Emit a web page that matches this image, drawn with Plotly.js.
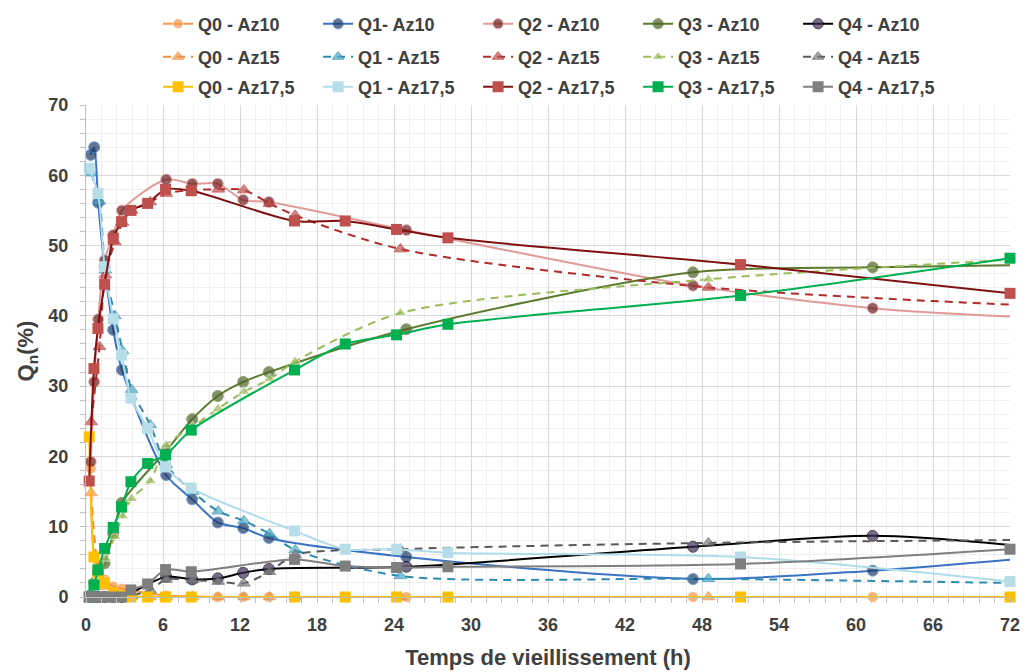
<!DOCTYPE html>
<html>
<head>
<meta charset="utf-8">
<script src="https://cdn.plot.ly/plotly-3.0.1.min.js"></script>
<style>
html,body{margin:0;padding:0;background:#fff;}
#chart{width:1025px;height:672px;}
</style>
</head>
<body>
<div id="chart"></div>
<script>
// ---- time points (h) ----
const t10  = [0.37, 0.64, 0.95, 1.45, 2.12, 2.8, 6.25, 8.28, 10.27, 12.25, 14.25, 24.96, 47.3, 61.3, 72];
const t15  = [0.4, 1.05, 1.5, 2.25, 2.85, 3.55, 5.0, 6.25, 8.3, 10.3, 12.3, 14.3, 16.3, 24.5, 48.5, 72];
const t175 = [0.25, 0.62, 0.93, 1.45, 2.12, 2.77, 3.5, 4.8, 6.2, 8.2, 16.25, 20.2, 24.2, 28.2, 51, 72];

// ---- Az10 ----
const q0_az10 = [18.3, 5.8, 4.5, 2.5, 1.5, 1.2, 0.2, 0.1, 0, 0, 0, 0, 0, 0, 0];
const q1_az10 = [62.9, 64.0, 56.1, 47.0, 38.0, 32.3, 17.35, 13.9, 10.6, 9.8, 8.4, 5.7, 2.56, 3.75, 5.3];
const q2_az10 = [19.25, 30.6, 39.5, 47.9, 51.5, 55.0, 59.4, 58.8, 58.8, 56.5, 56.2, 52.2, 44.3, 41.1, 39.9];
const q3_az10 = [0.3, 2.0, 3.5, 4.8, 9.0, 13.4, 20.8, 25.3, 28.6, 30.6, 32.0, 38.1, 46.2, 46.9, 47.2];
const q4_az10 = [0, 0, 0, 0, 0, 0, 2.9, 2.5, 2.65, 3.45, 4.0, 4.3, 7.15, 8.7, 7.4];

// ---- Az15 ----
const q0_az15 = [14.8, 2.9, 1.5, 0.8, 0.3, 0.1, 0, 0, 0, 0, 0, 0, 0, 0, 0, 0];
const q1_az15 = [60.3, 56.3, 46.5, 40.0, 35.0, 29.5, 24.5, 18.8, 15.0, 12.2, 10.85, 9.0, 6.7, 3.0, 2.6, 2.0];
const q2_az15 = [24.9, 35.6, 45.8, 50.5, 53.3, 55.0, 56.2, 57.4, 57.9, 58.0, 57.9, 56.0, 54.3, 49.5, 44.05, 41.6];
const q3_az15 = [0.2, 3.0, 5.5, 8.6, 11.5, 14.0, 16.5, 21.6, 24.2, 26.8, 29.2, 31.0, 33.5, 40.4, 45.2, 48.0];
const q4_az15 = [0, 0, 0, 0, 0, 0.2, 1.0, 2.5, 2.4, 2.2, 1.95, 3.6, 6.0, 6.8, 7.7, 8.1];

// ---- Az17,5 ----
const q0_az175 = [22.8, 5.7, 3.5, 2.0, 0.6, 0.2, 0, 0, 0, 0, 0, 0, 0, 0, 0, 0];
const q1_az175 = [61.0, null, 57.4, 47.0, 39.6, 34.4, 28.3, 24.0, 18.5, 15.5, 9.4, 6.8, 6.8, 6.3, 5.7, 2.2];
const q2_az175 = [16.5, 32.5, 38.2, 44.5, 51.0, 53.4, 55.0, 56.0, 58.0, 57.8, 53.5, 53.5, 52.3, 51.1, 47.3, 43.2];
const q3_az175 = [0, 1.7, 3.85, 6.9, 9.9, 12.8, 16.4, 19.0, 20.2, 23.75, 32.3, 36.0, 37.3, 38.8, 42.9, 48.2];
const q4_az175 = [0, 0, 0, 0, 0, 0, 1.0, 1.85, 3.9, 3.6, 5.35, 4.4, 4.2, 4.3, 4.7, 6.8];

const names10  = ['Q0 - Az10', 'Q1- Az10', 'Q2 - Az10', 'Q3 - Az10', 'Q4 - Az10'];
const names15  = ['Q0 - Az15', 'Q1 - Az15', 'Q2 - Az15', 'Q3 - Az15', 'Q4 - Az15'];
const names175 = ['Q0 - Az17,5', 'Q1 - Az17,5', 'Q2 - Az17,5', 'Q3 - Az17,5', 'Q4 - Az17,5'];

const lineCol10  = ['#F79646', '#3B73C4', '#E09A98', '#5B7A2C', '#000000'];
const markCol10  = ['#F79646', '#1F3A64', '#6A1B1B', '#4F6228', '#3F2F5B'];
const lineCol15  = ['#EE8A3A', '#2E8BB0', '#B22A2A', '#9BBB59', '#595959'];
const markCol15  = ['#F79646', '#4BACC6', '#C0504D', '#9BBB59', '#7F7F7F'];
const lineCol175 = ['#FFC000', '#B0DCEA', '#7F1010', '#00B050', '#7F7F7F'];
const markCol175 = ['#FFC000', '#B7DEE8', '#C0504D', '#00B050', '#7F7F7F'];

const vals10  = [q0_az10, q1_az10, q2_az10, q3_az10, q4_az10];
const vals15  = [q0_az15, q1_az15, q2_az15, q3_az15, q4_az15];
const vals175 = [q0_az175, q1_az175, q2_az175, q3_az175, q4_az175];

function sizes(t, s, hideLast) {
  return t.map((v, i) => (hideLast && i === t.length - 1) ? 0 : s);
}

const traces = [];
vals10.forEach((y, i) => traces.push({
  x: t10, y: y, name: names10[i], type: 'scatter', mode: 'lines+markers', legend: 'legend',
  line: {color: lineCol10[i], width: 2, shape: 'spline', smoothing: 0.8},
  marker: {symbol: 'circle', size: sizes(t10, 11, true), color: markCol10[i]},
  cliponaxis: false, connectgaps: true
}));
vals15.forEach((y, i) => traces.push({
  x: t15, y: y, name: names15[i], type: 'scatter', mode: 'lines+markers', legend: 'legend2',
  line: {color: lineCol15[i], width: 2, dash: '8px,6px', shape: 'spline', smoothing: 0.8},
  marker: {symbol: 'triangle-up', size: sizes(t15, 11, true), color: markCol15[i]},
  cliponaxis: false, connectgaps: true
}));
vals175.forEach((y, i) => traces.push({
  x: t175, y: y, name: names175[i], type: 'scatter', mode: 'lines+markers', legend: 'legend3',
  line: {color: lineCol175[i], width: 2, shape: 'spline', smoothing: 0.8},
  marker: {symbol: 'square', size: 11, color: markCol175[i]},
  cliponaxis: false, connectgaps: true
}));

const legFont = {family: '"Liberation Sans", Arial, sans-serif', size: 18, color: '#404040', weight: 'bold'};
function leg(yc) {
  return {
    orientation: 'h', x: 0.078, xanchor: 'left', y: yc, yanchor: 'middle',
    entrywidth: 115, entrywidthmode: 'pixels', font: legFont,
    bgcolor: 'rgba(0,0,0,0)', itemclick: false, traceorder: 'normal'
  };
}

const layout = {
  width: 1025, height: 672,
  margin: {l: 86, r: 15, t: 105, b: 75, autoexpand: false},
  paper_bgcolor: '#ffffff', plot_bgcolor: '#ffffff',
  showlegend: true,
  legend: leg(1.1646),
  legend2: leg(1.0976),
  legend3: leg(1.0366),
  xaxis: {
    range: [0, 72], dtick: 6, tick0: 0,
    showgrid: true, gridcolor: '#D9D9D9', gridwidth: 1,
    zeroline: false, showline: true, linecolor: '#BFBFBF', linewidth: 1,
    ticks: 'outside', ticklen: 5, tickcolor: '#BFBFBF', ticklabelstandoff: 6,
    minor: {dtick: 1.2, showgrid: true, gridcolor: '#EFEFEF', ticks: 'outside', ticklen: 5, tickcolor: '#BFBFBF'},
    tickfont: {family: '"Liberation Sans Narrow", "Liberation Sans", Arial, sans-serif', size: 18, color: '#404040', weight: 'bold'},
    title: {text: 'Temps de vieillissement (h)', standoff: 16,
      font: {family: '"Liberation Sans Narrow", "Liberation Sans", Arial, sans-serif', size: 22, color: '#404040', weight: 'bold'}}
  },
  yaxis: {
    range: [0, 70], dtick: 10, tick0: 0,
    showgrid: true, gridcolor: '#D9D9D9', gridwidth: 1,
    zeroline: false, showline: true, linecolor: '#BFBFBF', linewidth: 1,
    ticks: 'outside', ticklen: 5, tickcolor: '#BFBFBF', ticklabelstandoff: 8,
    minor: {dtick: 2, showgrid: true, gridcolor: '#EFEFEF', ticks: 'outside', ticklen: 5, tickcolor: '#BFBFBF'},
    tickfont: {family: '"Liberation Sans", Arial, sans-serif', size: 18, color: '#404040', weight: 'bold'},
    title: {text: 'Q<sub>n</sub>(%)', standoff: 8,
      font: {family: '"Liberation Sans", Arial, sans-serif', size: 22, color: '#404040', weight: 'bold'}}
  }
};

Plotly.newPlot('chart', traces, layout, {displayModeBar: false, responsive: false});
</script>
</body>
</html>
